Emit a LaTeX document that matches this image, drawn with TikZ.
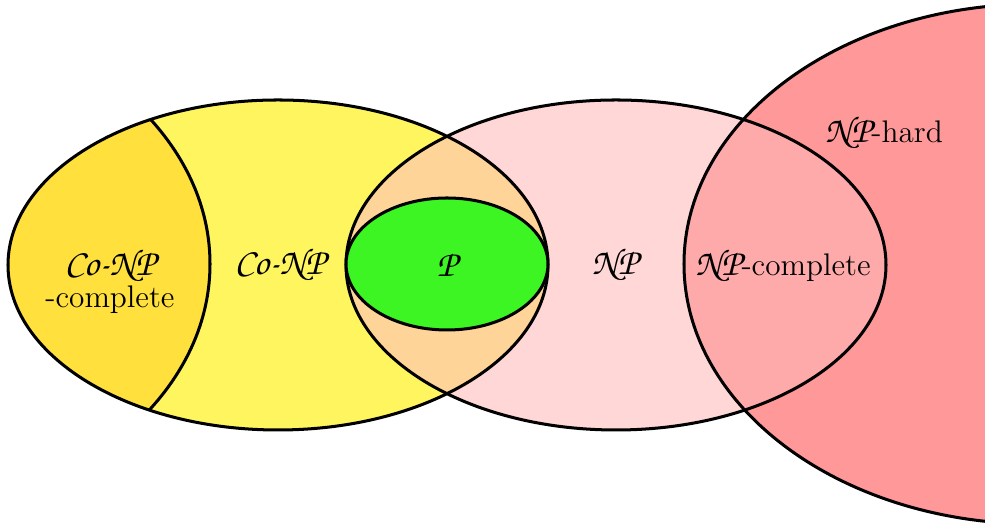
\documentclass[tikz,border=0pt]{standalone}
\usepackage{xcolor}
\usepackage{tikz}
\usetikzlibrary{positioning}

\definecolor{conpyellow}{RGB}{255,245,94}
\definecolor{conpcyellow}{RGB}{255,224,60}
\definecolor{nppink}{RGB}{255,215,215}
\definecolor{npcred}{RGB}{255,170,170}
\definecolor{nphred}{RGB}{255,153,153}
\definecolor{bothorange}{RGB}{255,212,153}
\definecolor{pgreen}{RGB}{60,245,35}

\newcommand{\zc}[1]{{\fontsize{13.6}{16}\usefont{T1}{pzc}{m}{it}#1}}

\begin{document}
\begin{tikzpicture}[
  x=0.365pt, y=0.365pt,
  set/.style={line width=1.1pt},
  lbl/.style={align=center, inner sep=1pt, font=\fontsize{11.4}{11.8}\selectfont}
]
  \clip (0,0) rectangle (985,528);
  \path[use as bounding box] (0,0) rectangle (985,528);
  % fills
  \fill[conpyellow] (278,263) ellipse [x radius=270, y radius=165];
  \begin{scope}
    \clip (278,263) ellipse [x radius=270, y radius=165];
    \fill[conpcyellow] (-142,264) ellipse [x radius=352, y radius=260];
  \end{scope}
  \fill[nphred] (1036,264) ellipse [x radius=352, y radius=260];
  \fill[nppink] (616,263) ellipse [x radius=270, y radius=165];
  \begin{scope}
    \clip (616,263) ellipse [x radius=270, y radius=165];
    \fill[bothorange] (278,263) ellipse [x radius=270, y radius=165];
    \fill[npcred] (1036,264) ellipse [x radius=352, y radius=260];
  \end{scope}
  % outlines
  \begin{scope}
    \clip (278,263) ellipse [x radius=270, y radius=165];
    \draw[set] (-142,264) ellipse [x radius=352, y radius=260];
  \end{scope}
  \draw[set] (278,263) ellipse [x radius=270, y radius=165];
  \draw[set] (616,263) ellipse [x radius=270, y radius=165];
  \draw[set] (1036,264) ellipse [x radius=352, y radius=260];
  \draw[set, fill=pgreen] (447,264) ellipse [x radius=101, y radius=66];
  % labels
  \node[lbl] (conpc) at (110,247) {\zc{Co-NP}\\-complete};
  \node[lbl] (conp) at (280,263) {\zc{Co-NP}};
  \node[lbl] (p) at (447,263) {\zc{P}};
  \node[lbl] (np) at (615,263) {\zc{NP}};
  \node[lbl] (npc) at (783,262) {\zc{NP}-complete};
  \node[lbl] (nph) at (884,395) {\zc{NP}-hard};
\end{tikzpicture}
\end{document}
